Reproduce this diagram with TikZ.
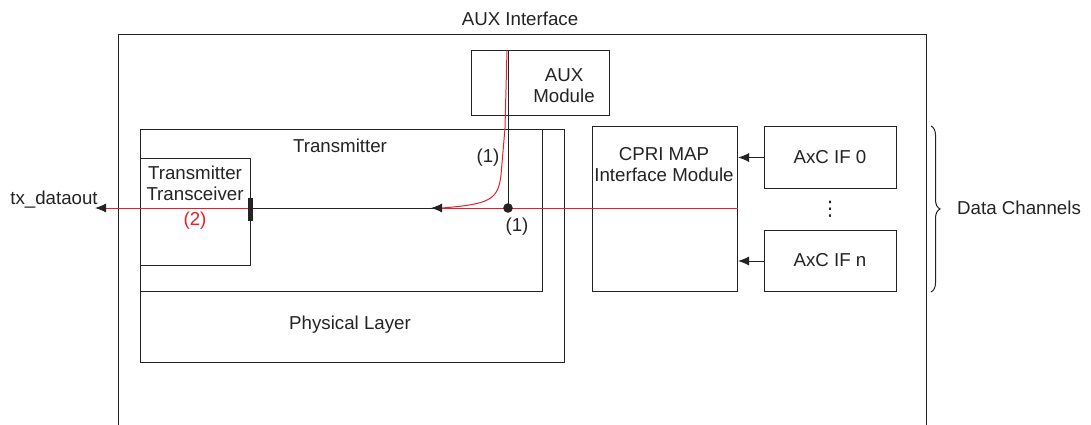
\documentclass[tikz,border=0pt]{standalone}
\usepackage{fontspec}
\setmainfont{Liberation Sans}
\newfontfamily\djv{DejaVu Sans}
\usetikzlibrary{arrows.meta,decorations.pathreplacing}
\definecolor{sig}{RGB}{232,30,40}
\definecolor{ln}{RGB}{35,35,35}
\begin{document}
\begin{tikzpicture}[x=1pt,y=-1pt,
  font=\fontsize{18.7}{21}\selectfont,
  box/.style={draw=ln, line width=1pt, inner sep=0pt, anchor=north west},
  lbl/.style={inner sep=0pt, align=center, text=ln},
  arr/.style={-{Latex[length=11pt,width=9pt]}},
  wire/.style={draw=ln, line width=1pt},
  redwire/.style={draw=sig, line width=1pt}]
\useasboundingbox (0,0) rectangle (1091,425);
% outer AUX Interface frame (open at bottom)
\coordinate (fbl) at (118,425);
\coordinate (ftl) at (118,35);
\coordinate (ftr) at (926,35);
\coordinate (fbr) at (926,425);
\draw[wire] (fbl) -- (ftl) -- (ftr) -- (fbr);
\node[lbl] (auxif) at (520,19) {AUX Interface};
% boxes
\node[box, minimum width=138, minimum height=65] (auxm) at (471,50) {};
\node[box, minimum width=424, minimum height=233] (phy) at (140,129) {};
\node[box, minimum width=402, minimum height=162] (tx) at (140,129) {};
\node[box, minimum width=110, minimum height=107] (trx) at (140,158) {};
\node[box, minimum width=145, minimum height=165] (cpri) at (592,126) {};
\node[box, minimum width=132, minimum height=62] (axc0) at (764,126) {};
\node[box, minimum width=132, minimum height=61] (axcn) at (764,230) {};
% labels
\node[lbl] (auxmt) at (564,86) {AUX\\Module};
\node[lbl] (txt) at (340,146) {Transmitter};
\node[lbl] (trxt) at (195,183) {Transmitter\\Transceiver};
\node[lbl] (phyt) at (350,325) {Physical Layer};
\node[lbl] (cprit) at (664,165) {CPRI MAP\\Interface Module};
\node[lbl] (axc0t) at (830,157) {AxC IF 0};
\node[lbl] (axcnt) at (830,260) {AxC IF n};
\node[lbl, font=\djv\fontsize{20}{22}\selectfont] (dots) at (830,209) {⋮};
\node[lbl] (txdo) at (54,200) {tx\_dataout};
\node[lbl, text=sig] (two) at (195,221) {(2)};
\node[lbl] (oneA) at (488,158) {(1)};
\node[lbl] (oneB) at (517,227) {(1)};
\node[lbl, anchor=west] (dch) at (957,208) {Data Channels};
% connection points
\coordinate (barc) at (250.5,208);
\coordinate (dot) at (508,208);
\coordinate (mid) at (431,208);
\coordinate (outtip) at (95,208);
\coordinate (cprir) at (cpri.east |- dot);
\coordinate (auxtop) at (508,50);
\coordinate (redtop) at (507,50);
\coordinate (redjoin) at (442,208);
% black signal path
\draw[wire] (dot) -- (auxtop);
\draw[wire] (barc) -- (dot);
\draw[wire, arr] (dot) -- (mid);
% red paths
\draw[redwire] (cprir) -- (redjoin);
\draw[redwire] (redtop) -- (505,128) -- (501,175) .. controls (498,200) and (490,204) .. (redjoin);
\draw[redwire, -{Latex[length=11pt,width=9pt,color=ln]}] (barc) -- (outtip);
% bar and dot
\fill[ln] (248,198) rectangle (253,221);
\fill[ln] (dot) circle (4.8);
% AxC arrows
\draw[wire, arr] (axc0.west) -- (axc0.west -| cpri.east);
\draw[wire, arr] (axcn.west) -- (axcn.west -| cpri.east);
% brace
\coordinate (bt) at (931,126);
\coordinate (bb) at (931,292);
\draw[wire, decorate, decoration={brace, amplitude=9pt}] (bt) -- (bb);
\end{tikzpicture}
\end{document}
